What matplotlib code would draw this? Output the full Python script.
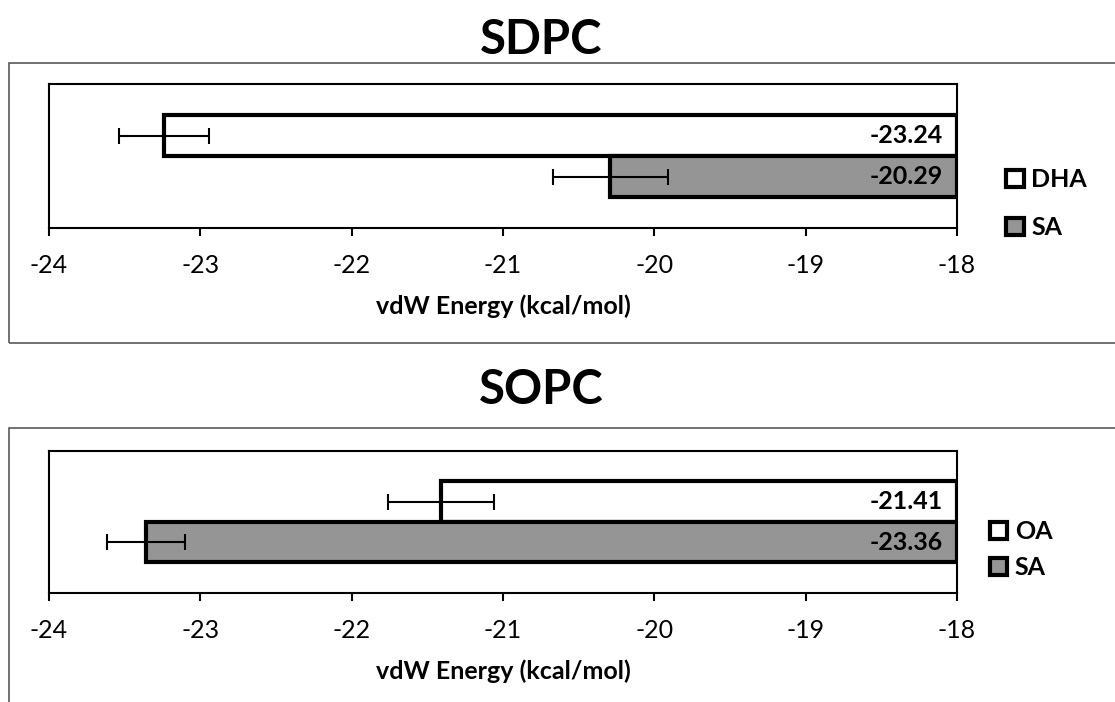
import matplotlib
matplotlib.use('Agg')
import matplotlib.pyplot as plt
from matplotlib.patches import Rectangle, Patch

plt.rcParams['font.family'] = ['Lato', 'DejaVu Sans']
plt.rcParams['axes.unicode_minus'] = False

# data
titles = ['SDPC', 'SOPC']
series_names = [['DHA', 'SA'], ['OA', 'SA']]
energy = [[-23.24, -20.29], [-21.41, -23.36]]
errors = [[0.30, 0.38], [0.35, 0.26]]
ticks = [-24, -23, -22, -21, -20, -19, -18]
xlabel = 'vdW Energy (kcal/mol)'

colors = ['white', '#959595']
base = -18
bar_h = 0.285

fig = plt.figure(figsize=(11.15, 7.02), dpi=100)

# panel frames (figure coords), and axes positions
frames = [(0.0081, 0.5114, 1.2, 0.3989), (0.0081, -0.2, 1.2, 0.5903)]
axpos = [[0.04395, 0.6752, 0.81435, 0.2051], [0.04395, 0.1553, 0.81435, 0.2023]]
title_y = [0.943, 0.4444]
leg_anchor = [(1.054, 0.17), (1.036, 0.303)]
leg_space = [1.0, 0.52]

for i in range(2):
    fig.patches.append(Rectangle(frames[i][:2], frames[i][2], frames[i][3],
                                 transform=fig.transFigure, fill=False,
                                 edgecolor='#5a5a5a', lw=1.2, clip_on=False))
    ax = fig.add_axes(axpos[i])
    handles = []
    for j in range(2):
        y = bar_h / 2 if j == 0 else -bar_h / 2
        ax.barh(y, energy[i][j] - base, left=base, height=bar_h,
                color=colors[j], edgecolor='black', lw=3)
        ax.errorbar(energy[i][j], y, xerr=errors[i][j], fmt='none',
                    ecolor='black', elinewidth=1.5, capsize=6, capthick=1.5)
        ax.annotate('%.2f' % energy[i][j], xy=(base, y), xytext=(-10, 0),
                    textcoords='offset points', ha='right', va='center',
                    fontsize=18, fontweight='bold')
        handles.append(Patch(facecolor=colors[j], edgecolor='black', lw=3,
                             label=series_names[i][j]))
    ax.set_xlim(-24, -18)
    ax.set_ylim(-0.5, 0.5)
    ax.set_xticks(ticks)
    ax.set_xticklabels([str(t) for t in ticks])
    ax.set_yticks([])
    for s in ax.spines.values():
        s.set_linewidth(1.5)
    ax.tick_params(axis='x', length=6, width=1.5, labelsize=18, pad=13)
    ax.set_xlabel(xlabel, fontsize=18, fontweight='bold', labelpad=12)
    ax.legend(handles=handles, loc='center left', bbox_to_anchor=leg_anchor[i],
              frameon=False, prop={'size': 18, 'weight': 'bold'},
              handlelength=0.7, handleheight=0.7, handletextpad=0.3,
              borderpad=0, borderaxespad=0, labelspacing=leg_space[i])
    fig.text(0.485, title_y[i], titles[i], ha='center', va='center',
             fontsize=34, fontweight='bold')

fig.savefig('out.png', dpi=100)
